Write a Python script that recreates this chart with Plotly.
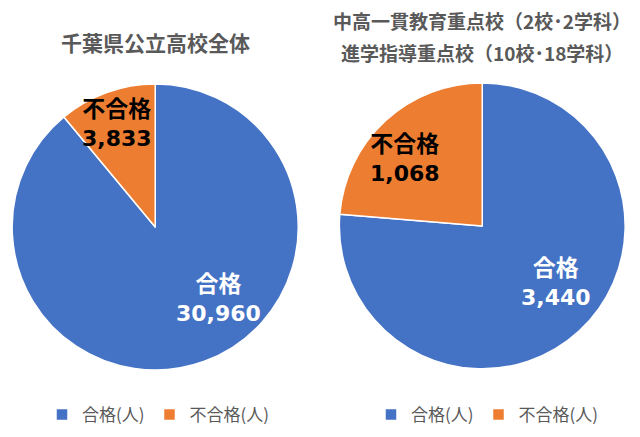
import plotly.graph_objects as go

labels = ["合格(人)", "不合格(人)"]
short_labels = ["合格", "不合格"]
left_values = [30960, 3833]
right_values = [3440, 1068]
left_title = "千葉県公立高校全体"
right_title = ["中高一貫教育重点校（2校･2学科）", "進学指導重点校（10校･18学科）"]
colors = ["#4472C4", "#ED7D31"]
FONT = "Noto Sans CJK JP"
NUMFONT = "DejaVu Sans, Noto Sans CJK JP"

fig = go.Figure()
fig.add_trace(go.Pie(
    labels=labels, values=left_values, sort=False, direction="clockwise", rotation=0,
    marker=dict(colors=colors, line=dict(color="white", width=1.5)),
    textinfo="none", hoverinfo="label+value",
    domain=dict(x=[0.019, 0.466], y=[0.153, 0.808]),
    legend="legend",
))
# zero-width space keeps the second pie's legend entries separate
fig.add_trace(go.Pie(
    labels=[l + "\u200b" for l in labels], values=right_values, sort=False,
    direction="clockwise", rotation=0,
    marker=dict(colors=colors, line=dict(color="white", width=1.5)),
    textinfo="none", hoverinfo="label+value",
    domain=dict(x=[0.530, 0.977], y=[0.156, 0.810]),
    legend="legend2",
))

W, H = 640, 437
def px(x, y):
    return x / W, 1 - y / H

annots = []
def add_text(x, y, text, size, color, family=FONT):
    xx, yy = px(x, y)
    annots.append(dict(x=xx, y=yy, xref="paper", yref="paper", text=text, showarrow=False,
                       xanchor="center", yanchor="middle",
                       font=dict(family=family, size=size, color=color)))

# titles
add_text(155, 42, f"<b>{left_title}</b>", 21, "#595959")
add_text(482, 21, f"<b>{right_title[0]}</b>", 19, "#595959")
add_text(482, 52, f"<b>{right_title[1]}</b>", 19, "#595959")

def label_text(name, value):
    return (f"<b><span style='font-family:Noto Sans CJK JP;font-size:23px'>{name}</span><br>"
            f"{value:,}</b>")

# data labels
add_text(218, 295, label_text(short_labels[0], left_values[0]), 22, "white", NUMFONT)
add_text(117, 120, label_text(short_labels[1], left_values[1]), 22, "black", NUMFONT)
add_text(556, 279, label_text(short_labels[0], right_values[0]), 22, "white", NUMFONT)
add_text(405, 156, label_text(short_labels[1], right_values[1]), 22, "black", NUMFONT)

legend_style = dict(orientation="h", xanchor="center", yanchor="middle",
                    font=dict(family=FONT, size=17, color="#595959"),
                    bgcolor="rgba(0,0,0,0)", itemwidth=30, traceorder="normal")

fig.update_layout(
    width=W, height=H,
    margin=dict(l=0, r=0, t=0, b=0),
    paper_bgcolor="white", plot_bgcolor="white",
    showlegend=True,
    legend=dict(x=158 / W, y=1 - 415 / H, **legend_style),
    legend2=dict(x=487 / W, y=1 - 415 / H, **legend_style),
    annotations=annots,
    font=dict(family=FONT),
)

fig.write_html("out.html")
